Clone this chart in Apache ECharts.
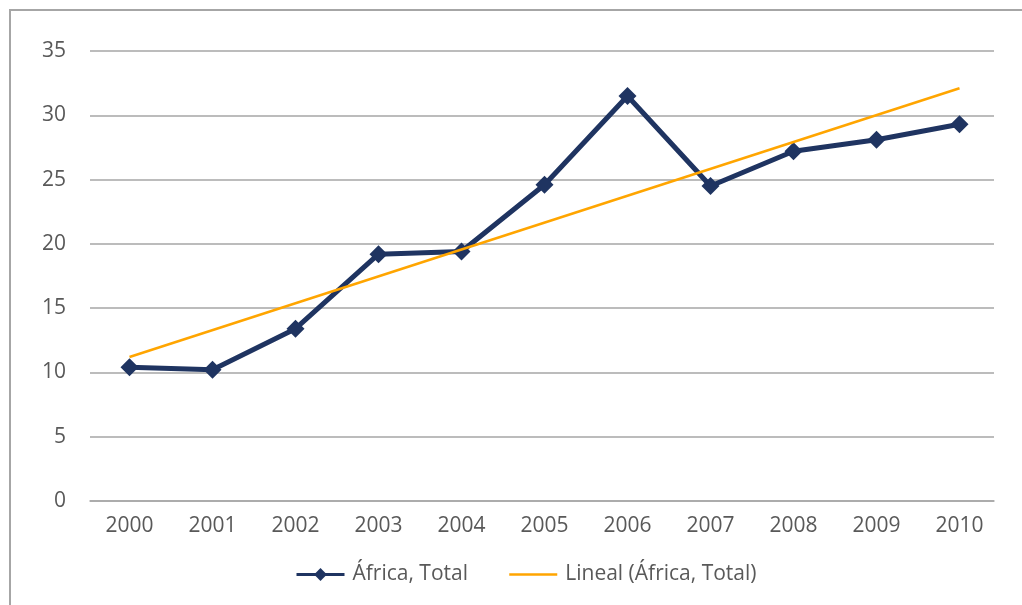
<!DOCTYPE html>
<html><head><meta charset="utf-8">
<script src="https://cdn.jsdelivr.net/npm/echarts@6/dist/echarts.min.js"></script>
<style>
html,body{margin:0;padding:0;background:#fff;}
#frame{position:absolute;left:9px;top:9px;width:1040px;height:640px;border:2px solid #a6a6a6;box-sizing:border-box;}
#c{position:absolute;left:0;top:0;width:1022px;height:605px;}
</style></head>
<body>
<div id="frame"></div>
<div id="c"></div>
<script>
const years = ['2000','2001','2002','2003','2004','2005','2006','2007','2008','2009','2010'];
const africaTotal = [10.4, 10.2, 13.4, 19.2, 19.4, 24.6, 31.5, 24.5, 27.2, 28.1, 29.3];
const trendStart = ['2000', 11.2];
const trendEnd = ['2010', 32.1];
const yTicks = [0, 5, 10, 15, 20, 25, 30, 35];

const font = '"Open Sans", "Noto Sans", sans-serif';
const yMin = yTicks[0], yMax = yTicks[yTicks.length-1];
const chart = echarts.init(document.getElementById('c'), null, {renderer:'canvas'});
chart.setOption({
  animation:false,
  backgroundColor:'transparent',
  grid:[
    {left:88,right:21,top:51,bottom:104,containLabel:false},
    {left:90,right:28,top:51,bottom:104,containLabel:false}
  ],
  xAxis:[
    {type:'category',data:years,boundaryGap:true,gridIndex:0,
     axisLine:{show:false},axisTick:{show:false},
     axisLabel:{color:'#595959',fontSize:21,fontFamily:font,margin:15}},
    {type:'category',data:years,boundaryGap:true,gridIndex:1,
     axisLine:{lineStyle:{color:'#a6a6a6',width:1.5}},axisTick:{show:false},
     axisLabel:{show:false}}
  ],
  yAxis:[
    {type:'value',min:yMin,max:yMax,interval:5,gridIndex:0,
     axisLine:{show:false},axisTick:{show:false},splitLine:{show:false},
     axisLabel:{color:'#595959',fontSize:21,fontFamily:font,margin:22,align:'right'}},
    {type:'value',min:yMin,max:yMax,interval:5,gridIndex:1,
     axisLine:{show:false},axisTick:{show:false},axisLabel:{show:false},
     splitLine:{lineStyle:{color:'#a6a6a6',width:1.5}}}
  ],
  legend:{top:559,left:290,itemGap:40,itemWidth:48,itemHeight:16,
    textStyle:{color:'#595959',fontSize:21,fontFamily:font,padding:[0,0,0,3]},
    data:[
      {name:'África, Total',lineStyle:{width:3}},
      {name:'Lineal (África, Total)',itemStyle:{opacity:0},lineStyle:{width:2.5}}
    ]},
  series:[
    {name:'Lineal (África, Total)',type:'line',xAxisIndex:0,yAxisIndex:0,data:[trendStart,trendEnd],
     showSymbol:false,symbol:'none',lineStyle:{color:'#FFA500',width:2.5},itemStyle:{color:'#FFA500'},z:3},
    {name:'África, Total',type:'line',xAxisIndex:0,yAxisIndex:0,data:africaTotal,symbol:'diamond',symbolSize:18,
     lineStyle:{color:'#1f3461',width:5},itemStyle:{color:'#1f3461'},z:2}
  ]
});
</script>
</body></html>
